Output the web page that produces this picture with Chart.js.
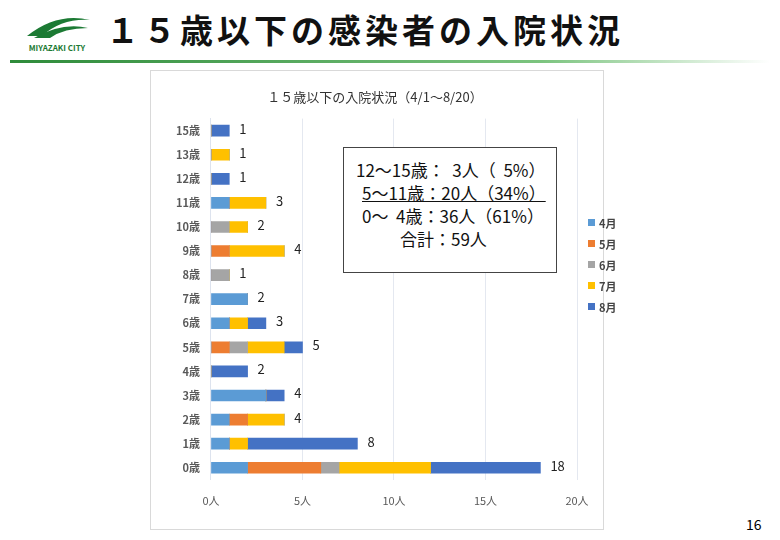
<!DOCTYPE html>
<html><head><meta charset="utf-8">
<script src="https://cdn.jsdelivr.net/npm/chart.js@4"></script>
<style>
body{margin:0;width:780px;height:540px;position:relative;background:#fff;font-family:"Noto Sans CJK JP",sans-serif;overflow:hidden}
#head{position:absolute;left:106px;top:5px;font-size:33px;font-weight:bold;color:#111;letter-spacing:4px}
#line{position:absolute;left:10px;top:60px;width:760px;height:3px;background:linear-gradient(90deg,#2e8b3a,#7cc47f 70%,#fff)}
#logo{position:absolute;left:18px;top:12px;width:78px;font-size:8px;font-weight:bold;color:#1c7a34;text-align:center}
#frame{position:absolute;left:150px;top:70px;width:452px;height:458px;border:1px solid #d9d9d9}
#box{position:absolute;left:343px;top:147px;width:214px;height:126px;border:1.5px solid #444;background:#fff;font-size:17px;line-height:23px;color:#111;padding-top:10px;box-sizing:border-box}
#box div{white-space:pre}
#legend{position:absolute;left:588px;top:212px;font-size:11px;color:#444;font-weight:bold}
#legend div{height:21px;display:flex;align-items:center}
#legend span{display:inline-block;width:7px;height:7px;margin-right:4px}
#page{position:absolute;left:746px;top:514px;font-size:14px}
</style></head><body>
<div id="logo"><svg width="70" height="28"><path d="M5 24 Q35 0 68 8 Q40 6 20 24Z" fill="#1c7a34"/><path d="M12 26 Q40 10 66 16 Q42 16 28 26Z" fill="#1c7a34"/></svg><br>MIYAZAKI CITY</div>
<div id="head">１５歳以下の感染者の入院状況</div>
<div id="line"></div>
<div id="frame"><canvas id="c" width="452" height="458"></canvas></div>
<div id="box">
<div style="margin-left:12px">12～15歳：  3人（  5%）</div>
<div style="margin-left:18px;text-decoration:underline">5～11歳：20人（34%）</div>
<div style="margin-left:18px">0～  4歳：36人（61%）</div>
<div style="margin-left:56px">合計：59人</div>
</div>
<div id="legend"></div>
<div id="page">16</div>
<script>
const ages = ["15歳","13歳","12歳","11歳","10歳","9歳","8歳","7歳","6歳","5歳","4歳","3歳","2歳","1歳","0歳"];
const months = ["4月","5月","6月","7月","8月"];
const colors = ["#5b9bd5","#ed7d31","#a5a5a5","#ffc000","#4472c4"];
const apr = [0,0,0,1,0,0,0,2,1,0,0,3,1,1,2];
const may = [0,0,0,0,0,1,0,0,0,1,0,0,1,0,4];
const jun = [0,0,0,0,1,0,1,0,0,1,0,0,0,0,1];
const jul = [0,1,0,2,1,3,0,0,1,2,0,0,2,1,5];
const aug = [1,0,1,0,0,0,0,0,1,1,2,1,0,6,6];
const series = [apr,may,jun,jul,aug];
const xTicks = [0,5,10,15,20];

const legendEl = document.getElementById("legend");
months.forEach((m,i)=>{
  legendEl.innerHTML += `<div><span style="background:${colors[i]}"></span>${m}</div>`;
});

// 合計ラベル
const totals = {
  id:"totals",
  afterDatasetsDraw(chart){
    const ctx = chart.ctx, xs = chart.scales.x, ys = chart.scales.y;
    ctx.save();
    ctx.font = "13px 'Noto Sans CJK JP'";
    ctx.fillStyle = "#222";
    ctx.textBaseline = "middle";
    ages.forEach((a,i)=>{
      const t = series.reduce((s,d)=>s+d[i],0);
      ctx.fillText(t, xs.getPixelForValue(t)+10, ys.getPixelForValue(i)-2);
    });
    ctx.restore();
  }
};

new Chart(document.getElementById("c"),{
  type:"bar",
  data:{labels:ages,datasets:series.map((d,i)=>({label:months[i],data:d,backgroundColor:colors[i],barThickness:11}))},
  options:{
    indexAxis:"y",responsive:false,animation:false,
    layout:{padding:{left:22,right:26,top:8,bottom:8}},
    plugins:{
      legend:{display:false},tooltip:{enabled:false},
      title:{display:true,text:"１５歳以下の入院状況（4/1～8/20）",color:"#333",font:{size:13,family:"Noto Sans CJK JP",weight:"normal"},padding:{top:10,bottom:14}}
    },
    scales:{
      x:{stacked:true,min:0,max:20,afterBuildTicks:s=>{s.ticks=xTicks.map(v=>({value:v}));},
        ticks:{callback:v=>v+"人",color:"#595959",font:{size:11,family:"Noto Sans CJK JP"},padding:14},
        grid:{color:"#e4e8f0",drawTicks:false},border:{display:false}},
      y:{stacked:true,ticks:{color:"#595959",font:{size:11,family:"Noto Sans CJK JP",weight:"bold"}},
        grid:{display:false},border:{color:"#dde3ee"}}
    }
  },
  plugins:[totals]
});
</script>
</body></html>
